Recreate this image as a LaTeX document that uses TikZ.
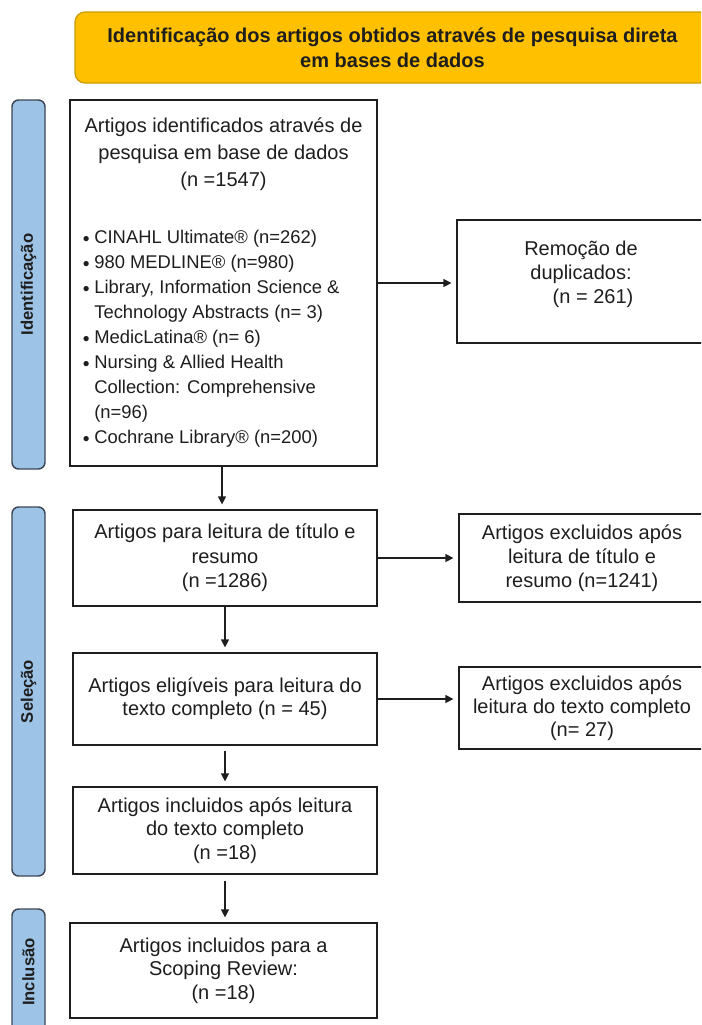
\documentclass[tikz,border=0pt]{standalone}
\usepackage{fontspec}
\usepackage{graphicx}
\setmainfont{Liberation Sans}
\usetikzlibrary{arrows.meta}

\definecolor{hdrfill}{HTML}{FFC000}
\definecolor{hdrline}{HTML}{C99A00}
\definecolor{barfill}{HTML}{9DC3E6}
\definecolor{barline}{HTML}{3B4756}
\definecolor{ink}{HTML}{1E1E1E}

% list bullet
\newcommand\listdot{\raisebox{-0.25ex}{\scalebox{1.05}{•}}}

\begin{document}
\begin{tikzpicture}[x=0.75pt,y=-0.75pt,
  box/.style={draw=ink, line width=0.9pt, fill=white, inner sep=0pt, align=center, text=ink},
  phase/.style={draw=barline, line width=1.1pt, fill=barfill, rounded corners=5pt,
    rotate=90, minimum height=24.75pt, inner sep=0pt, text=ink,
    font=\bfseries\fontsize{12.5pt}{15pt}\selectfont},
  flow/.style={-{Triangle[length=6pt,width=6pt]}, line width=0.9pt, draw=ink, shorten >=3.75pt},
]
\useasboundingbox (0,0) rectangle (701,1025);
\clip (0,0) rectangle (701,1025);

% header banner
\node[draw=hdrline, fill=hdrfill, rounded corners=7.5pt, line width=0.9pt,
      minimum width=476.25pt, minimum height=53.25pt, align=center, text=ink,
      font=\bfseries\fontsize{15pt}{18.75pt}\selectfont] (hdr) at (392.5,47.5)
  {Identificação dos artigos obtidos através de pesquisa direta\\em bases de dados};

% phase bars
\node[phase, minimum width=276.75pt] (idbar) at (28.5,284.5) {Identificação};
\node[phase, minimum width=276.75pt] (selbar) at (28.5,691.5) {Seleção};
\node[phase, minimum width=94.5pt] (incbar) at (28.5,972) {Inclusão};

% database search box
\node[box, minimum width=230.25pt, minimum height=274.5pt] (srch) at (223.5,283) {};
\node[align=center, inner sep=0pt, text=ink, font=\fontsize{15pt}{20.25pt}\selectfont]
  (srchT) at (223.5,154) {Artigos identificados através de\\pesquisa em base de dados\\(n =1547)};
\node[anchor=base west, inner sep=0pt, text=ink, font=\fontsize{13.8pt}{18.8pt}\selectfont]
  (srchL) at (82.5,243) {\begin{tabular}[t]{@{}l@{\hspace{3.6pt}}l@{}}
    \listdot & CINAHL Ultimate® (n=262)\\
    \listdot & 980 MEDLINE® (n=980)\\
    \listdot & Library, Information Science \&\\
             & Technology Abstracts (n= 3)\\
    \listdot & MedicLatina® (n= 6)\\
    \listdot & Nursing \& Allied Health\\
             & Collection: Comprehensive\\
             & (n=96)\\
    \listdot & Cochrane Library® (n=200)
  \end{tabular}};

% duplicates removed
\node[box, minimum width=186pt, minimum height=92.25pt] (dup) at (581,281.5) {};
\node[align=center, inner sep=0pt, text=ink, font=\fontsize{15pt}{18pt}\selectfont]
  (dupT) at (581,274) {Remoção de\\duplicados:\\\hspace*{18pt}(n = 261)};

% screening chain
\node[box, minimum width=228pt, minimum height=72pt, font=\fontsize{15pt}{18.4pt}\selectfont]
  (ttl) at (225,558) {Artigos para leitura de título e\\resumo\\(n =1286)};
\node[box, minimum width=184.5pt, minimum height=66pt, font=\fontsize{15pt}{18pt}\selectfont]
  (exA) at (582,558) {Artigos excluidos após\\leitura de título e\\resumo (n=1241)};
\node[box, minimum width=228pt, minimum height=69pt, font=\fontsize{15pt}{17.25pt}\selectfont]
  (elig) at (225,699) {Artigos eligíveis para leitura do\\texto completo (n = 45)};
\node[box, minimum width=184.5pt, minimum height=61.5pt, font=\fontsize{15pt}{17.4pt}\selectfont]
  (exB) at (582,708) {Artigos excluidos após\\leitura do texto completo\\(n= 27)};
\node[box, minimum width=228pt, minimum height=65.25pt, font=\fontsize{15pt}{17.6pt}\selectfont]
  (full) at (225,830.5) {Artigos incluidos após leitura\\do texto completo\\(n =18)};
\node[box, minimum width=230.25pt, minimum height=71.25pt, font=\fontsize{15pt}{17.6pt}\selectfont]
  (scop) at (223.5,970.5) {Artigos incluidos para a\\Scoping Review:\\(n =18)};

% connectors
\draw[flow] (srch.east) -- (srch.east -| dup.west);
\draw[flow] (srch.south -| 222,0) -- (ttl.north -| 222,0);
\draw[flow] (ttl.east) -- (ttl.east -| exA.west);
\draw[flow] (ttl.south) -- (elig.north);
\draw[flow] (elig.east) -- (elig.east -| exB.west);
\draw[flow, shorten <=3.75pt] (elig.south) -- (full.north);
\draw[flow, shorten <=4.5pt] (full.south) -- (scop.north -| full.south);
\end{tikzpicture}
\end{document}
